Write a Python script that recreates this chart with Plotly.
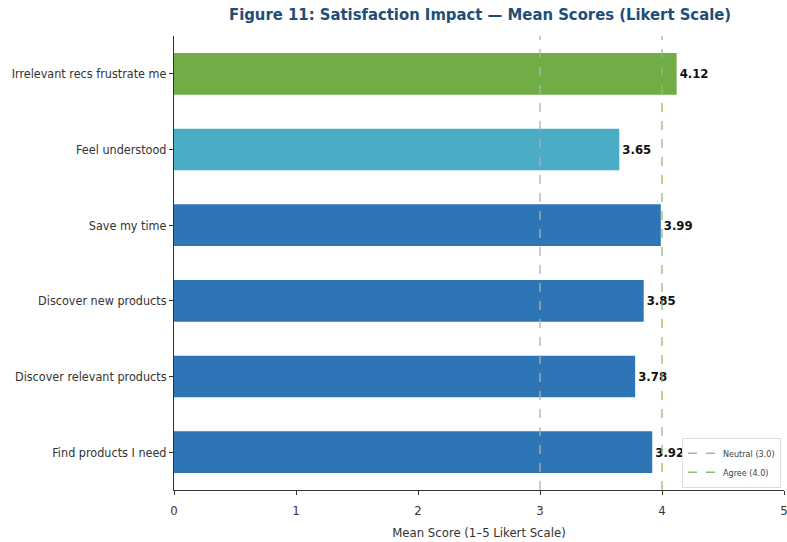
import plotly.graph_objects as go

# Survey items (bottom to top) and their mean Likert scores
items = [
    "Find products I need",
    "Discover relevant products",
    "Discover new products",
    "Save my time",
    "Feel understood",
    "Irrelevant recs frustrate me",
]
means = [3.92, 3.78, 3.85, 3.99, 3.65, 4.12]
bar_colors = ["#2E75B6", "#2E75B6", "#2E75B6", "#2E75B6", "#4BACC6", "#70AD47"]

# Reference thresholds on the Likert scale
ref_names = ["Neutral (3.0)", "Agree (4.0)"]
ref_values = [3.0, 4.0]
ref_colors = ["#a9b4b0", "#8cc06a"]

FONT = "DejaVu Sans Condensed"

fig = go.Figure()

fig.add_trace(go.Bar(
    y=items,
    x=means,
    orientation="h",
    width=0.55,
    marker=dict(color=bar_colors, line=dict(width=0)),
    text=[f"{v:.2f}" for v in means],
    textposition="outside",
    textfont=dict(family=FONT, size=13, color="#111111"),
    texttemplate="<b>%{text}</b>",
    cliponaxis=False,
    showlegend=False,
    hoverinfo="skip",
))

for name, val, col in zip(ref_names, ref_values, ref_colors):
    fig.add_trace(go.Scatter(
        x=[val, val],
        y=[-0.5, 5.5],
        yaxis="y2",
        mode="lines",
        line=dict(color=col, width=1.3, dash="dash"),
        name=name,
        hoverinfo="skip",
    ))

fig.update_layout(
    width=787,
    height=542,
    margin=dict(l=174, r=3, t=36, b=52, autoexpand=False),
    paper_bgcolor="white",
    plot_bgcolor="white",
    font=dict(family=FONT, size=12, color="#333333"),
    title=dict(
        text="<b>Figure 11: Satisfaction Impact — Mean Scores (Likert Scale)</b>",
        x=0.61, xanchor="center",
        y=0.985, yanchor="top",
        font=dict(family=FONT, size=16.5, color="#1F4E79"),
    ),
    xaxis=dict(
        range=[0, 5],
        tickvals=[0, 1, 2, 3, 4, 5],
        showgrid=False,
        zeroline=False,
        showline=True,
        linecolor="#333333",
        linewidth=1,
        ticks="outside",
        ticklen=4,
        tickcolor="#333333",
        tickfont=dict(size=13),
        ticklabeloverflow="allow",
        ticklabelstandoff=4,
        automargin=False,
        title=dict(text="Mean Score (1–5 Likert Scale)", font=dict(size=13), standoff=11),
    ),
    yaxis=dict(
        range=[-0.5, 5.5],
        showgrid=False,
        zeroline=False,
        showline=True,
        linecolor="#333333",
        linewidth=1,
        ticks="outside",
        ticklen=4,
        tickcolor="#333333",
        tickfont=dict(size=12.5),
        automargin=False,
    ),
    yaxis2=dict(
        range=[-0.5, 5.5],
        overlaying="y",
        visible=False,
    ),
    legend=dict(
        x=0.995, xanchor="right",
        y=0.005, yanchor="bottom",
        bgcolor="rgba(255,255,255,0.85)",
        bordercolor="#dddddd",
        borderwidth=1,
        font=dict(family=FONT, size=9, color="#444444"),
        tracegroupgap=0,
    ),
    bargap=0.45,
)

fig.write_html("out.html")
